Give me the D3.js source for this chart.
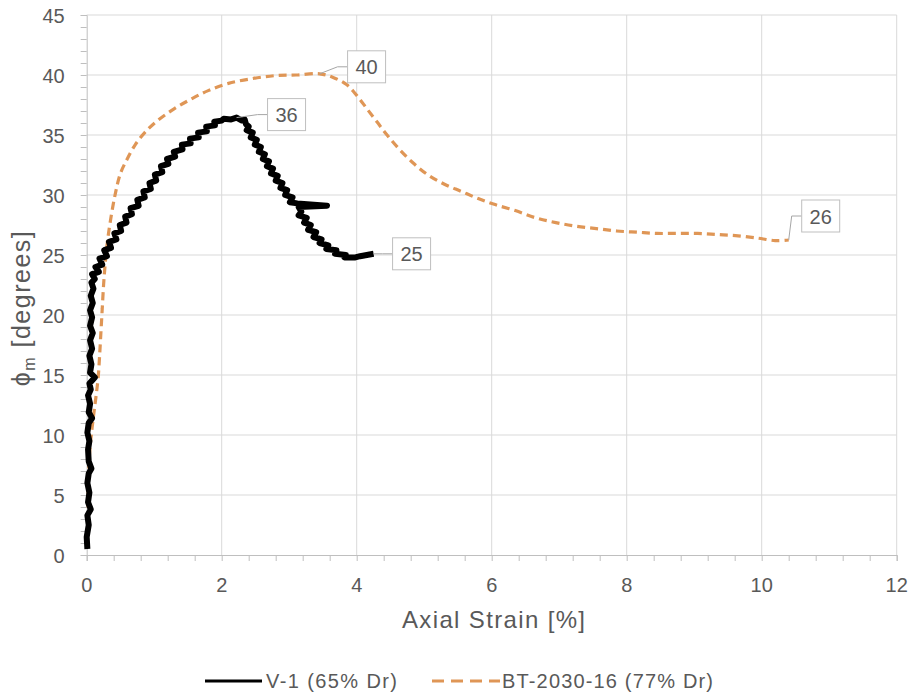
<!DOCTYPE html>
<html>
<head>
<meta charset="utf-8">
<script src="https://cdn.jsdelivr.net/npm/d3@7"></script>
<style>
  body { margin: 0; background: #fff; }
  svg text { font-family: "Liberation Sans", Arial, sans-serif; fill: #595959; }
</style>
</head>
<body>
<div id="chart"></div>
<script>
// V-1 (65% Dr): axial strain [%] vs mobilised friction angle [deg]
const v1Strain = [
  0.01, 0.00, 0.03, 0.01, 0.06, 0.02, 0.04, 0.01, 0.03, 0.07, 0.03, 0.02, 0.04, 0.01, 0.03, 0.08, 0.03, 0.05,
  0.02, 0.06, 0.04, 0.12, 0.05, 0.07, 0.04, 0.08, 0.05, 0.09, 0.05, 0.08, 0.05, 0.09, 0.06, 0.10, 0.07,
  0.12, 0.08, 0.18, 0.13, 0.23, 0.19, 0.30, 0.26, 0.36, 0.33, 0.44, 0.41, 0.51, 0.49, 0.59, 0.57, 0.67, 0.65,
  0.77, 0.75, 0.86, 0.84, 0.95, 0.93, 1.03, 1.01, 1.12, 1.10, 1.21, 1.19, 1.31, 1.29, 1.42, 1.41, 1.54, 1.53,
  1.66, 1.65, 1.78, 1.77, 1.90, 1.89, 2.00, 2.03, 2.14, 2.22, 2.30, 2.34, 2.36,
  2.40, 2.37, 2.46, 2.43, 2.52, 2.49, 2.58, 2.55, 2.64, 2.61, 2.70, 2.67, 2.76, 2.73, 2.83, 2.80, 2.90, 2.87,
  2.97, 2.94, 3.05, 3.01, 3.12, 3.56, 3.14, 3.18, 3.14, 3.26, 3.22, 3.32, 3.28, 3.40, 3.36, 3.48, 3.45, 3.58,
  3.55, 3.70, 3.68, 3.84, 3.82, 3.98, 4.05, 4.15, 4.25];
const v1Phi = [
  0.5, 1.5, 2.5, 3.3, 3.8, 4.4, 5.2, 6.0, 6.8, 7.2, 7.8, 8.8, 9.5, 10.2, 11.0, 11.4, 11.9, 12.6,
  13.3, 13.8, 14.3, 14.8, 15.2, 15.9, 16.6, 17.2, 17.9, 18.5, 19.1, 19.8, 20.4, 21.0, 21.6, 22.2, 22.7,
  23.0, 23.4, 23.6, 24.0, 24.2, 24.7, 24.9, 25.4, 25.6, 26.1, 26.3, 26.8, 27.0, 27.5, 27.7, 28.2, 28.4, 28.9,
  29.1, 29.6, 29.8, 30.3, 30.5, 31.0, 31.2, 31.7, 31.9, 32.4, 32.6, 33.0, 33.2, 33.6, 33.8, 34.2, 34.3, 34.7,
  34.8, 35.2, 35.3, 35.7, 35.8, 36.1, 36.2, 36.35, 36.3, 36.45, 36.2, 36.3, 35.9,
  35.7, 35.4, 35.2, 34.8, 34.6, 34.2, 34.0, 33.6, 33.4, 33.0, 32.8, 32.4, 32.2, 31.8, 31.6, 31.2, 31.0, 30.6,
  30.4, 30.0, 29.8, 29.4, 29.3, 29.1, 29.0, 28.6, 28.3, 28.1, 27.7, 27.5, 27.1, 26.9, 26.5, 26.3, 26.0, 25.8,
  25.5, 25.4, 25.1, 25.0, 24.8, 24.8, 24.9, 25.0, 25.1];

// BT-2030-16 (77% Dr)
const btStrain = [0.00, 0.02, 0.02, 0.03, 0.05, 0.08, 0.11, 0.14, 0.17, 0.19, 0.21, 0.23, 0.25, 0.27, 0.30,
  0.35, 0.42, 0.50, 0.60, 0.72, 0.86, 1.05, 1.30, 1.55, 1.80, 2.10, 2.45, 2.80, 3.10, 3.45, 3.65, 3.85, 4.00,
  4.15, 4.30, 4.45, 4.65, 4.85, 5.05, 5.30, 5.55, 5.80, 6.05, 6.35, 6.65, 6.95, 7.25, 7.55, 7.85, 8.15, 8.45,
  8.75, 9.05, 9.35, 9.65, 9.95, 10.20, 10.40];
const btPhi = [0.7, 3.0, 5.0, 7.0, 9.0, 10.6, 12.0, 13.3, 14.8, 16.5, 18.5, 20.5, 22.5, 24.0, 25.8,
  27.8, 30.0, 31.8, 33.0, 34.2, 35.2, 36.2, 37.2, 38.0, 38.7, 39.3, 39.7, 39.95, 40.0, 40.1, 39.8, 39.2, 38.3,
  37.2, 36.1, 35.0, 33.7, 32.6, 31.7, 30.9, 30.3, 29.7, 29.2, 28.7, 28.1, 27.7, 27.4, 27.2, 27.0, 26.9, 26.8,
  26.8, 26.8, 26.7, 26.6, 26.4, 26.2, 26.25];

const xTicks = [0, 2, 4, 6, 8, 10, 12];
const yTicks = [0, 5, 10, 15, 20, 25, 30, 35, 40, 45];

const width = 919, height = 696;
const svg = d3.select("#chart").append("svg")
  .attr("width", width)
  .attr("height", height);

const x = d3.scaleLinear().domain([0, 12]).range([86.7, 896.7]);
const y = d3.scaleLinear().domain([0, 45]).range([555, 15]);

// grid
svg.append("g").selectAll("line").data(yTicks.slice(1)).enter().append("line")
  .attr("x1", x(0)).attr("x2", x(12))
  .attr("y1", d => y(d)).attr("y2", d => y(d))
  .attr("stroke", "#d9d9d9").attr("stroke-width", 1);
svg.append("g").selectAll("line").data(xTicks.slice(1)).enter().append("line")
  .attr("x1", d => x(d)).attr("x2", d => x(d))
  .attr("y1", y(0)).attr("y2", y(45))
  .attr("stroke", "#d9d9d9").attr("stroke-width", 1);

// axes with minor ticks
const xAxis = svg.append("g")
  .attr("transform", `translate(0,${y(0)})`)
  .call(d3.axisBottom(x).tickValues(d3.range(0, 12.01, 0.4)).tickSize(6).tickFormat(""));
const yAxis = svg.append("g")
  .attr("transform", `translate(${x(0)},0)`)
  .call(d3.axisLeft(y).tickValues(d3.range(0, 45.01, 1)).tickSize(6).tickFormat(""));
[xAxis, yAxis].forEach(g => {
  g.select(".domain").attr("stroke", "#bfbfbf");
  g.selectAll(".tick line").attr("stroke", "#bfbfbf");
});

svg.append("g").selectAll("text").data(xTicks).enter().append("text")
  .attr("x", d => x(d)).attr("y", y(0) + 37)
  .attr("text-anchor", "middle")
  .style("font-size", "20px")
  .text(d => d);
svg.append("g").selectAll("text").data(yTicks).enter().append("text")
  .attr("x", x(0) - 22).attr("y", d => y(d) + 7.5)
  .attr("text-anchor", "end")
  .style("font-size", "20px")
  .text(d => d);

// axis titles
svg.append("text")
  .attr("x", 402).attr("y", 628)
  .attr("textLength", 183).attr("lengthAdjust", "spacing")
  .style("font-size", "24px")
  .text("Axial Strain [%]");
const yTitle = svg.append("text")
  .attr("transform", "translate(30,308) rotate(-90)")
  .attr("text-anchor", "middle")
  .style("font-size", "25px")
  .style("letter-spacing", "1.5px");
yTitle.append("tspan").text("ϕ");
yTitle.append("tspan").attr("dy", 5).style("font-size", "16px").text("m");
yTitle.append("tspan").attr("dy", -5).text(" [degrees]");

// series
const orange = "#df9656";
const v1 = d3.zip(v1Strain, v1Phi);
const bt = d3.zip(btStrain, btPhi);

svg.append("path").datum(bt)
  .attr("d", d3.line().x(d => x(d[0])).y(d => y(d[1])).curve(d3.curveCatmullRom))
  .attr("fill", "none").attr("stroke", orange)
  .attr("stroke-width", 3.2).attr("stroke-dasharray", "8,5");
svg.append("path").datum(v1)
  .attr("d", d3.line().x(d => x(d[0])).y(d => y(d[1])))
  .attr("fill", "none").attr("stroke", "#000")
  .attr("stroke-width", 6).attr("stroke-linejoin", "round");

// data labels with leader lines
const labels = [
  { p: v1[d3.maxIndex(v1Phi)], dx: 31, dy: -3 },
  { p: v1[v1.length - 1], dx: 19, dy: 0 },
  { p: bt[d3.maxIndex(btPhi)], dx: 28, dy: -7 },
  { p: bt[bt.length - 1], dx: 13, dy: -24 }
];
labels.forEach(l => {
  const px = x(l.p[0]), py = y(l.p[1]);
  const bx = px + l.dx, by = py + l.dy;
  svg.append("polyline")
    .attr("points", `${px},${py} ${bx - 10},${by} ${bx},${by}`)
    .attr("fill", "none").attr("stroke", "#a6a6a6").attr("stroke-width", 1);
  svg.append("rect")
    .attr("x", bx).attr("y", by - 16).attr("width", 38).attr("height", 32)
    .attr("fill", "#fff").attr("stroke", "#bfbfbf");
  svg.append("text")
    .attr("x", bx + 19).attr("y", by + 7.5)
    .attr("text-anchor", "middle")
    .style("font-size", "20px")
    .text(d3.format(".0f")(l.p[1]));
});

// legend
const legend = svg.append("g").attr("transform", "translate(0,681)");
legend.append("line").attr("x1", 205).attr("x2", 262).attr("y1", 0).attr("y2", 0)
  .attr("stroke", "#000").attr("stroke-width", 3);
legend.append("text").attr("x", 266).attr("y", 7).style("font-size", "20px")
  .attr("textLength", 131).attr("lengthAdjust", "spacing").text("V-1 (65% Dr)");
legend.append("line").attr("x1", 432).attr("x2", 500).attr("y1", 0).attr("y2", 0)
  .attr("stroke", orange).attr("stroke-width", 3).attr("stroke-dasharray", "12,7");
legend.append("text").attr("x", 502).attr("y", 7).style("font-size", "20px")
  .attr("textLength", 211).attr("lengthAdjust", "spacing").text("BT-2030-16 (77% Dr)");
</script>
</body>
</html>
